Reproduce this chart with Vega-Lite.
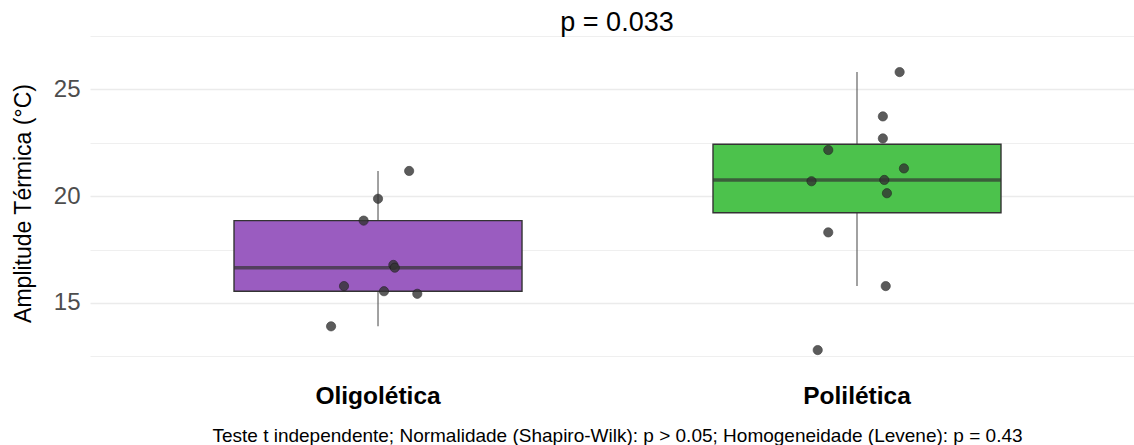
{
  "$schema": "https://vega.github.io/schema/vega-lite/v6.json",
  "autosize": {"type": "none"},
  "padding": {"left": 90, "top": 33, "right": 0, "bottom": 79},
  "width": 1044,
  "height": 333,
  "background": "white",
  "config": {
    "view": {"stroke": null},
    "font": "Liberation Sans"
  },
  "title": {
    "text": "p = 0.033",
    "anchor": "middle",
    "frame": "group",
    "fontSize": 27,
    "fontWeight": "normal",
    "color": "#000000",
    "font": "Liberation Sans",
    "baseline": "bottom",
    "offset": -2,
    "dx": 5,
    "dy": 29
  },
  "data": {
    "values": [
      {"grupo": "Oligolética", "amplitude": 21.17, "jit": 0.065},
      {"grupo": "Oligolética", "amplitude": 19.87, "jit": 0.0},
      {"grupo": "Oligolética", "amplitude": 18.85, "jit": -0.030},
      {"grupo": "Oligolética", "amplitude": 16.78, "jit": 0.032},
      {"grupo": "Oligolética", "amplitude": 16.65, "jit": 0.035},
      {"grupo": "Oligolética", "amplitude": 15.79, "jit": -0.071},
      {"grupo": "Oligolética", "amplitude": 15.55, "jit": 0.0125},
      {"grupo": "Oligolética", "amplitude": 15.43, "jit": 0.082},
      {"grupo": "Oligolética", "amplitude": 13.91, "jit": -0.098},
      {"grupo": "Polilética", "amplitude": 25.79, "jit": 0.089},
      {"grupo": "Polilética", "amplitude": 23.72, "jit": 0.054},
      {"grupo": "Polilética", "amplitude": 22.69, "jit": 0.054},
      {"grupo": "Polilética", "amplitude": 22.15, "jit": -0.060},
      {"grupo": "Polilética", "amplitude": 21.29, "jit": 0.098},
      {"grupo": "Polilética", "amplitude": 20.69, "jit": -0.095},
      {"grupo": "Polilética", "amplitude": 20.75, "jit": 0.057},
      {"grupo": "Polilética", "amplitude": 20.13, "jit": 0.0625},
      {"grupo": "Polilética", "amplitude": 18.30, "jit": -0.060},
      {"grupo": "Polilética", "amplitude": 15.79, "jit": 0.060},
      {"grupo": "Polilética", "amplitude": 12.80, "jit": -0.082}
    ]
  },
  "encoding": {
    "x": {
      "field": "grupo",
      "type": "nominal",
      "sort": ["Oligolética", "Polilética"],
      "scale": {"paddingInner": 0, "paddingOuter": 0.0898, "align": 0.564},
      "axis": {
        "title": "Teste t independente; Normalidade (Shapiro-Wilk): p > 0.05; Homogeneidade (Levene): p = 0.43",
        "titleFontSize": 19,
        "titleFontWeight": "normal",
        "titleColor": "#000000",
        "titleFont": "Liberation Sans",
        "titleBaseline": "alphabetic",
        "titleX": 527,
        "titleY": 75,
        "labelAngle": 0,
        "labelFontSize": 24.5,
        "labelFontWeight": "bold",
        "labelColor": "#000000",
        "labelFont": "Liberation Sans",
        "labelBaseline": "alphabetic",
        "labelPadding": 37,
        "ticks": false,
        "tickSize": 0,
        "domain": false,
        "grid": false
      }
    },
    "y": {
      "field": "amplitude",
      "type": "quantitative",
      "scale": {"domain": [12.056, 27.617], "nice": false, "zero": false},
      "axis": {
        "title": "Amplitude Térmica (°C)",
        "titleFontSize": 23,
        "titleFontWeight": "normal",
        "titleColor": "#000000",
        "titleFont": "Liberation Sans",
        "titleAngle": -90,
        "titleBaseline": "middle",
        "titleX": -67,
        "titleY": 170,
        "values": [12.5, 15, 17.5, 20, 22.5, 25, 27.5],
        "labelExpr": "datum.value % 5 === 0 ? datum.label : ''",
        "labelFontSize": 24,
        "labelColor": "#4d4d4d",
        "labelFont": "Liberation Sans",
        "labelPadding": 10,
        "ticks": false,
        "tickSize": 0,
        "domain": false,
        "grid": true,
        "gridColor": "#ebebeb",
        "gridWidth": {"condition": {"test": "datum.value % 5 === 0", "value": 1.4}, "value": 0.8}
      }
    }
  },
  "layer": [
    {
      "mark": {
        "type": "boxplot",
        "extent": 1.5,
        "outliers": false,
        "size": 288,
        "box": {"stroke": "#333333", "strokeWidth": 1.4},
        "median": {"color": "#333333", "thickness": 3.4},
        "rule": {"color": "#555555", "strokeWidth": 1.1}
      },
      "encoding": {
        "color": {
          "field": "grupo",
          "type": "nominal",
          "scale": {"domain": ["Oligolética", "Polilética"], "range": ["#9a5cc0", "#4cc24c"]},
          "legend": null
        }
      }
    },
    {
      "mark": {
        "type": "circle",
        "size": 85,
        "color": "#333333",
        "opacity": 0.8,
        "stroke": "#1a1a1a",
        "strokeWidth": 0.7
      },
      "encoding": {
        "xOffset": {"field": "jit", "type": "quantitative", "scale": {"domain": [-0.5, 0.5]}}
      }
    }
  ]
}
